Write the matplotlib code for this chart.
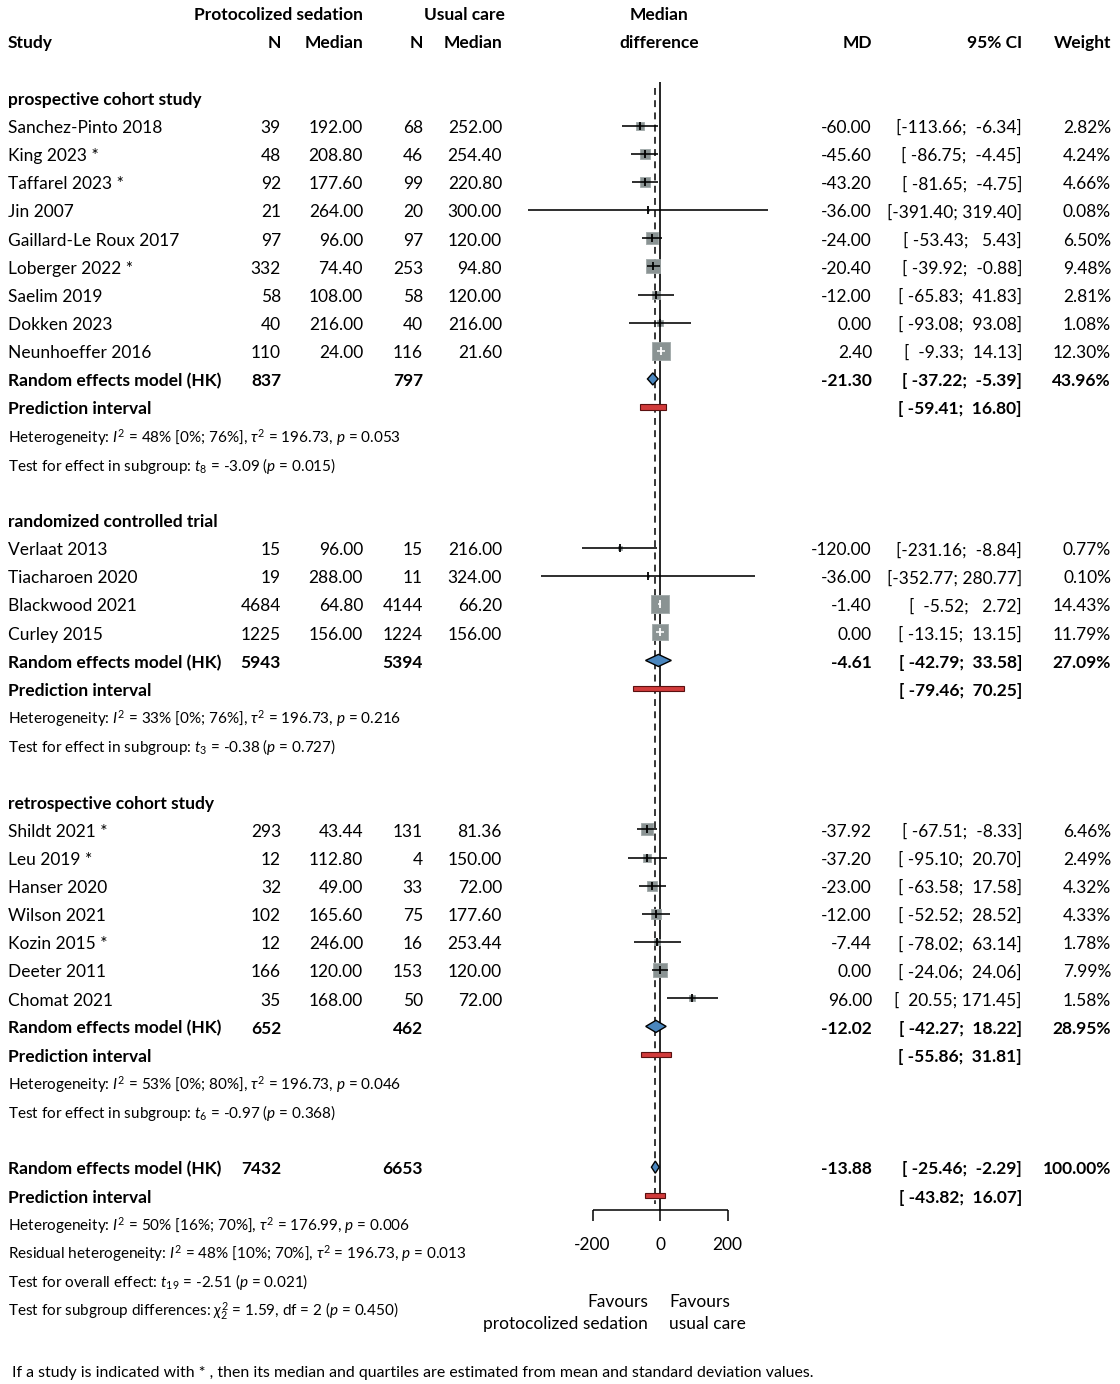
import matplotlib
matplotlib.use("Agg")
import matplotlib.pyplot as plt
from matplotlib.patches import Polygon, Rectangle

plt.rcParams['font.family'] = ['Lato', 'DejaVu Sans']
plt.rcParams['mathtext.fontset'] = 'custom'
plt.rcParams['mathtext.rm'] = 'Lato'
plt.rcParams['mathtext.it'] = 'Lato:italic'
plt.rcParams['mathtext.bf'] = 'Lato:bold'

# ---------------- data ----------------
group_names = ["prospective cohort study", "randomized controlled trial", "retrospective cohort study"]
studies = ["Sanchez-Pinto 2018", "King 2023 *", "Taffarel 2023 *", "Jin 2007", "Gaillard-Le Roux 2017",
           "Loberger 2022 *", "Saelim 2019", "Dokken 2023", "Neunhoeffer 2016",
           "Verlaat 2013", "Tiacharoen 2020", "Blackwood 2021", "Curley 2015",
           "Shildt 2021 *", "Leu 2019 *", "Hanser 2020", "Wilson 2021", "Kozin 2015 *", "Deeter 2011", "Chomat 2021"]
study_group = [0]*9 + [1]*4 + [2]*7
n_ps = [39, 48, 92, 21, 97, 332, 58, 40, 110, 15, 19, 4684, 1225, 293, 12, 32, 102, 12, 166, 35]
med_ps = [192.00, 208.80, 177.60, 264.00, 96.00, 74.40, 108.00, 216.00, 24.00,
          96.00, 288.00, 64.80, 156.00, 43.44, 112.80, 49.00, 165.60, 246.00, 120.00, 168.00]
n_uc = [68, 46, 99, 20, 97, 253, 58, 40, 116, 15, 11, 4144, 1224, 131, 4, 33, 75, 16, 153, 50]
med_uc = [252.00, 254.40, 220.80, 300.00, 120.00, 94.80, 120.00, 216.00, 21.60,
          216.00, 324.00, 66.20, 156.00, 81.36, 150.00, 72.00, 177.60, 253.44, 120.00, 72.00]
md = [-60.00, -45.60, -43.20, -36.00, -24.00, -20.40, -12.00, 0.00, 2.40,
      -120.00, -36.00, -1.40, 0.00, -37.92, -37.20, -23.00, -12.00, -7.44, 0.00, 96.00]
ci_lo = [-113.66, -86.75, -81.65, -391.40, -53.43, -39.92, -65.83, -93.08, -9.33,
         -231.16, -352.77, -5.52, -13.15, -67.51, -95.10, -63.58, -52.52, -78.02, -24.06, 20.55]
ci_hi = [-6.34, -4.45, -4.75, 319.40, 5.43, -0.88, 41.83, 93.08, 14.13,
         -8.84, 280.77, 2.72, 13.15, -8.33, 20.70, 17.58, 28.52, 63.14, 24.06, 171.45]
weight = [2.82, 4.24, 4.66, 0.08, 6.50, 9.48, 2.81, 1.08, 12.30,
          0.77, 0.10, 14.43, 11.79, 6.46, 2.49, 4.32, 4.33, 1.78, 7.99, 1.58]

sub_n_ps = [837, 5943, 652]
sub_n_uc = [797, 5394, 462]
sub_md = [-21.30, -4.61, -12.02]
sub_lo = [-37.22, -42.79, -42.27]
sub_hi = [-5.39, 33.58, 18.22]
sub_w = [43.96, 27.09, 28.95]
sub_pi_lo = [-59.41, -79.46, -55.86]
sub_pi_hi = [16.80, 70.25, 31.81]
sub_het = [r"Heterogeneity: $I^2$ = 48% [0%; 76%], $\tau^2$ = 196.73, $p$ = 0.053",
           r"Heterogeneity: $I^2$ = 33% [0%; 76%], $\tau^2$ = 196.73, $p$ = 0.216",
           r"Heterogeneity: $I^2$ = 53% [0%; 80%], $\tau^2$ = 196.73, $p$ = 0.046"]
sub_test = [r"Test for effect in subgroup: $t_8$ = -3.09 ($p$ = 0.015)",
            r"Test for effect in subgroup: $t_3$ = -0.38 ($p$ = 0.727)",
            r"Test for effect in subgroup: $t_6$ = -0.97 ($p$ = 0.368)"]

all_n_ps = 7432
all_n_uc = 6653
all_md = -13.88
all_lo = -25.46
all_hi = -2.29
all_w = 100.00
all_pi_lo = -43.82
all_pi_hi = 16.07
overall_stats = [r"Heterogeneity: $I^2$ = 50% [16%; 70%], $\tau^2$ = 176.99, $p$ = 0.006",
                 r"Residual heterogeneity: $I^2$ = 48% [10%; 70%], $\tau^2$ = 196.73, $p$ = 0.013",
                 r"Test for overall effect: $t_{19}$ = -2.51 ($p$ = 0.021)",
                 r"Test for subgroup differences: $\chi^2_2$ = 1.59, df = 2 ($p$ = 0.450)"]
x_ticks = [-200, 0, 200]
footnote = "If a study is indicated with * , then its median and quartiles are estimated from mean and standard deviation values."

# ---------------- layout ----------------
W, H = 1120, 1384
ROW0, ROWH = 13.0, 28.15          # px of row 0, px per row
PX0, PXU = 660.0, 0.3375          # px of x=0, px per unit
ytop = (0 - ROW0) / ROWH
ybot = (H - ROW0) / ROWH

fig = plt.figure(figsize=(W / 100, H / 100), dpi=100)
tax = fig.add_axes([0, 0, 1, 1])
tax.set_xlim(0, W)
tax.set_ylim(ybot, ytop)
tax.axis('off')

fl, fr = 520, 780
fax = fig.add_axes([fl / W, 0, (fr - fl) / W, 1])
fax.set_xlim((fl - PX0) / PXU, (fr - PX0) / PXU)
fax.set_ylim(ybot, ytop)
fax.axis('off')
fax.patch.set_alpha(0)

FS = 12.5
FSS = 11.0
FSN = 11.4
BL = 0.26  # baseline offset (rows)

X_STUDY, X_N1, X_M1, X_N2, X_M2 = 8, 281, 363, 423, 502
X_MD, X_CI, X_W = 872, 1022, 1111


def txt(x, row, s, ha='left', bold=False, fs=FS, **kw):
    tax.text(x, row + BL, s, ha=ha, va='baseline', fontsize=fs,
             fontweight='bold' if bold else 'normal', **kw)


def ci_str(lo, hi):
    return "[%7.2f; %6.2f]" % (lo, hi)


# header
txt(X_M1, 0, "Protocolized sedation", ha='right', bold=True)
txt(505, 0, "Usual care", ha='right', bold=True)
txt(659, 0, "Median", ha='center', bold=True)
txt(X_STUDY, 1, "Study", bold=True)
txt(X_N1, 1, "N", ha='right', bold=True)
txt(X_M1, 1, "Median", ha='right', bold=True)
txt(X_N2, 1, "N", ha='right', bold=True)
txt(X_M2, 1, "Median", ha='right', bold=True)
txt(659, 1, "difference", ha='center', bold=True)
txt(X_MD, 1, "MD", ha='right', bold=True)
txt(X_CI, 1, "95% CI", ha='right', bold=True)
txt(X_W, 1, "Weight", ha='right', bold=True)

SQ_K = 4.85  # px per sqrt(weight %)
sq_color = "#8a9393"
dia_color = "#4a86be"
pi_color = "#d13b3b"


def draw_study(i, row):
    txt(X_STUDY, row, studies[i])
    txt(X_N1, row, str(n_ps[i]), ha='right')
    txt(X_M1, row, "%.2f" % med_ps[i], ha='right')
    txt(X_N2, row, str(n_uc[i]), ha='right')
    txt(X_M2, row, "%.2f" % med_uc[i], ha='right')
    txt(X_MD, row, "%.2f" % md[i], ha='right')
    txt(X_CI, row, ci_str(ci_lo[i], ci_hi[i]), ha='right')
    txt(X_W, row, "%.2f%%" % weight[i], ha='right')
    side_px = SQ_K * weight[i] ** 0.5
    fax.scatter([md[i]], [row], marker='s', s=(side_px * 0.72) ** 2, color=sq_color,
                edgecolor="#a0a8a8", linewidth=0.6, zorder=3)
    half_u = 0.75 * side_px / 2 / PXU
    inside = (ci_lo[i] >= md[i] - half_u) and (ci_hi[i] <= md[i] + half_u)
    lc = 'white' if inside else 'black'
    fax.hlines(row, ci_lo[i], ci_hi[i], color=lc, linewidth=1.15, zorder=4)
    fax.plot([md[i]], [row], marker='|', markersize=5.5, markeredgewidth=1.3, color=lc, zorder=4)


def draw_diamond(row, m, lo, hi):
    h = 0.215
    fax.add_patch(Polygon([(lo, row), (m, row - h), (hi, row), (m, row + h)], closed=True,
                          facecolor=dia_color, edgecolor='black', linewidth=1.0, zorder=5))


def draw_pi(row, lo, hi):
    h = 0.19
    fax.add_patch(Rectangle((lo, row - h / 2), hi - lo, h, facecolor=pi_color,
                            edgecolor='#5a1010', linewidth=0.8, zorder=5))


row = 3
for g, gname in enumerate(group_names):
    txt(X_STUDY, row, gname, bold=True)
    row += 1
    for i in range(len(studies)):
        if study_group[i] == g:
            draw_study(i, row)
            row += 1
    txt(X_STUDY, row, "Random effects model (HK)", bold=True)
    txt(X_N1, row, str(sub_n_ps[g]), ha='right', bold=True)
    txt(X_N2, row, str(sub_n_uc[g]), ha='right', bold=True)
    txt(X_MD, row, "%.2f" % sub_md[g], ha='right', bold=True)
    txt(X_CI, row, ci_str(sub_lo[g], sub_hi[g]), ha='right', bold=True)
    txt(X_W, row, "%.2f%%" % sub_w[g], ha='right', bold=True)
    draw_diamond(row, sub_md[g], sub_lo[g], sub_hi[g])
    row += 1
    txt(X_STUDY, row, "Prediction interval", bold=True)
    txt(X_CI, row, ci_str(sub_pi_lo[g], sub_pi_hi[g]), ha='right', bold=True)
    draw_pi(row, sub_pi_lo[g], sub_pi_hi[g])
    row += 1
    txt(X_STUDY, row, sub_het[g], fs=FSS)
    row += 1
    txt(X_STUDY, row, sub_test[g], fs=FSS)
    row += 2

# overall
txt(X_STUDY, row, "Random effects model (HK)", bold=True)
txt(X_N1, row, str(all_n_ps), ha='right', bold=True)
txt(X_N2, row, str(all_n_uc), ha='right', bold=True)
txt(X_MD, row, "%.2f" % all_md, ha='right', bold=True)
txt(X_CI, row, ci_str(all_lo, all_hi), ha='right', bold=True)
txt(X_W, row, "%.2f%%" % all_w, ha='right', bold=True)
draw_diamond(row, all_md, all_lo, all_hi)
row_overall = row
row += 1
txt(X_STUDY, row, "Prediction interval", bold=True)
txt(X_CI, row, ci_str(all_pi_lo, all_pi_hi), ha='right', bold=True)
draw_pi(row, all_pi_lo, all_pi_hi)
row += 1
for s in overall_stats:
    txt(X_STUDY, row, s, fs=FSS)
    row += 1

# reference lines
axis_row = (1210 - ROW0) / ROWH
tick_len = 11 / ROWH
fax.vlines(0, (82 - ROW0) / ROWH, axis_row, color='black', linewidth=1.2, zorder=2)
fax.vlines(all_md, (88 - ROW0) / ROWH, row_overall + 1.3, color='black', linewidth=1.1,
           linestyles=(0, (4.5, 3.5)), zorder=2)

# x axis
fax.hlines(axis_row, min(x_ticks), max(x_ticks), color='black', linewidth=1.1)
for t in x_ticks:
    fax.vlines(t, axis_row, axis_row + tick_len, color='black', linewidth=1.1)
    fax.text(t, (1243 - ROW0) / ROWH + BL, "%d" % t, ha='center', va='baseline', fontsize=FS)

txt(648, (1300 - ROW0) / ROWH, "Favours", ha='right')
txt(648, (1322 - ROW0) / ROWH, "protocolized sedation", ha='right')
txt(669, (1300 - ROW0) / ROWH, "Favours", ha='left')
txt(669, (1322 - ROW0) / ROWH, "usual care", ha='left')

txt(12, (1370 - ROW0) / ROWH, footnote, fs=FSN)

fig.savefig("out.png", dpi=100)
